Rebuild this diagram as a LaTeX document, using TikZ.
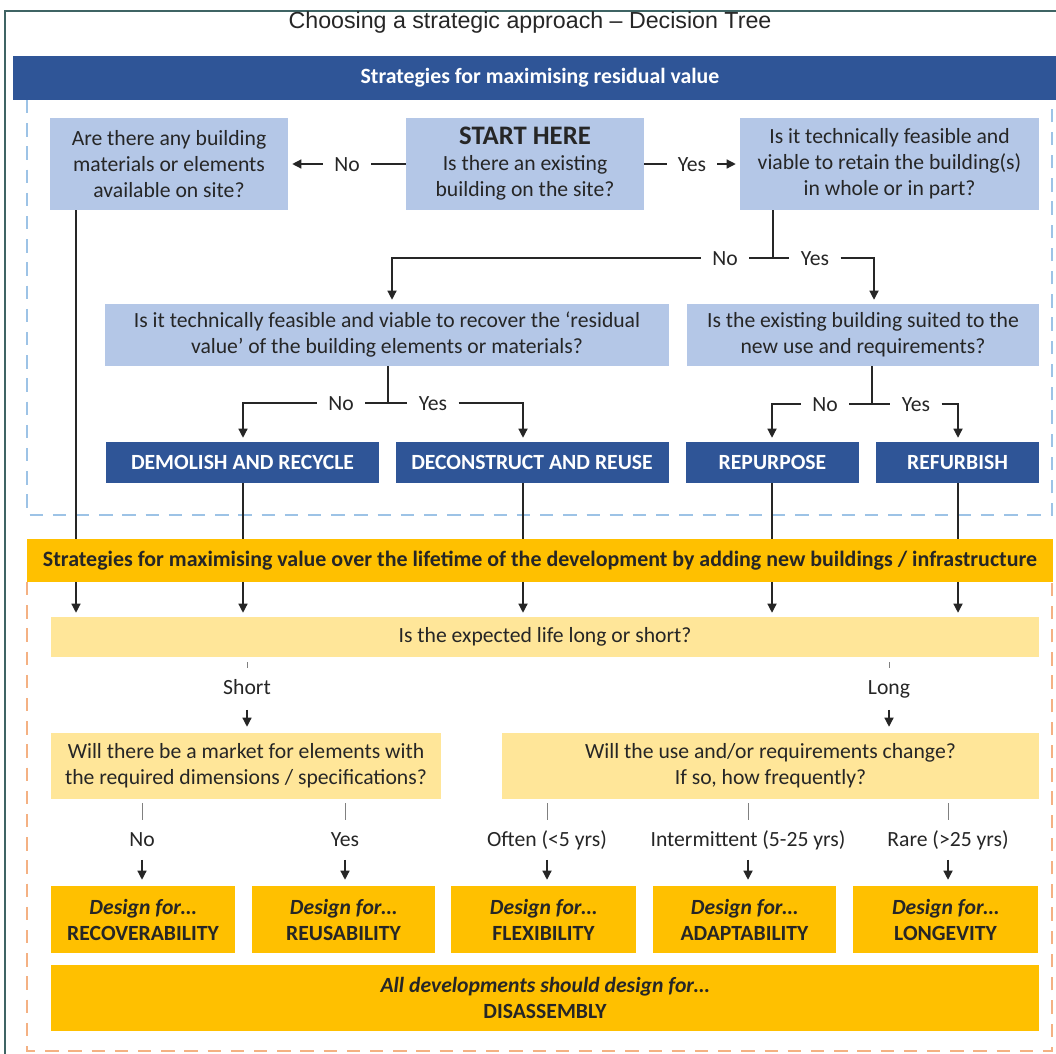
\documentclass[tikz,border=0pt]{standalone}
\usepackage{fontspec}
\setmainfont{Carlito}
\newfontfamily\titlefont{Liberation Sans}
\usetikzlibrary{arrows.meta}
\newdimen\px \px=0.025cm
\definecolor{darkblue}{HTML}{2F5597}
\definecolor{lightblue}{HTML}{B4C7E7}
\definecolor{gold}{HTML}{FFC000}
\definecolor{paleyellow}{HTML}{FFE699}
\definecolor{dashblue}{HTML}{9DC3E6}
\definecolor{dashorange}{HTML}{F4B183}
\definecolor{framegreen}{HTML}{3F6464}
\definecolor{ink}{HTML}{262626}

\begin{document}
\begin{tikzpicture}[x=0.025cm,y=-0.025cm,
  box/.style={inner sep=0pt,align=center,text=ink,font=\fontsize{15.4}{18.5}\selectfont},
  qblue/.style={box,fill=lightblue},
  qyellow/.style={box,fill=paleyellow},
  outcome/.style={box,fill=darkblue,text=white,font=\fontsize{15.4}{18.5}\selectfont\bfseries},
  design/.style={box,fill=gold,font=\fontsize{15.4}{18.5}\selectfont\bfseries},
  lbl/.style={fill=white,inner xsep=8pt,inner ysep=4pt,text height=10pt,text depth=0pt,text=ink,font=\fontsize{15.4}{18.5}\selectfont},
  conn/.style={draw=ink,line width=0.9pt},
  arr/.style={conn,shorten >=4\px,-{Triangle[length=6.5pt,width=6.5pt]}},
  tick/.style={draw=gray,line width=0.6pt},
  dashes/.style={line width=1.4pt,dash pattern=on 9.5pt off 7pt}
]
\fill[white] (0,0) rectangle (1056,1053);
\useasboundingbox (0,0) rectangle (1056,1053);
\clip (0,0) rectangle (1056,1053);
\draw[framegreen,line width=1.2pt] (5,1080) -- (5,11) -- (1080,11);
\node[font=\titlefont\fontsize{16.5}{19}\selectfont,text=ink] (title) at (530,22) {Choosing a strategic approach – Decision Tree};

% residual value
\node[fill=darkblue,text=white,font=\fontsize{15.5}{18}\selectfont\bfseries,minimum width=1054\px,minimum height=44\px,inner sep=0pt] (residual) at (540,78) {Strategies for maximising residual value};
\draw[dashblue,dashes] (27,100) -- (27,515) -- (1052,515) -- (1052,100);

\node[qblue,minimum width=238\px,minimum height=92\px] (avail) at (169,164) {Are there any building\\materials or elements\\available on site?};
\node[qblue,minimum width=238\px,minimum height=92\px] (start) at (525,164) {{\fontsize{19}{22}\selectfont\bfseries START HERE}\\Is there an existing\\building on the site?};
\node[qblue,minimum width=299\px,minimum height=92\px] (retain) at (889.5,164) {Is it technically feasible and\\viable to retain the building(s)\\in whole or in part?};
\node[qblue,minimum width=564\px,minimum height=62\px] (recover) at (387,335) {Is it technically feasible and viable to recover the ‘residual\\value’ of the building elements or materials?};
\node[qblue,minimum width=352\px,minimum height=62\px] (suited) at (863,335) {Is the existing building suited to the\\new use and requirements?};

\node[outcome,minimum width=273\px,minimum height=41\px] (demolish) at (242.5,462.5) {DEMOLISH AND RECYCLE};
\node[outcome,minimum width=273\px,minimum height=41\px] (deconstruct) at (532,462.5) {DECONSTRUCT AND REUSE};
\node[outcome,minimum width=173\px,minimum height=41\px] (repurpose) at (772.5,462.5) {REPURPOSE};
\node[outcome,minimum width=163\px,minimum height=41\px] (refurbish) at (957.5,462.5) {REFURBISH};

\coordinate (c0) at (76,0);
\coordinate (c1) at (243,0);
\coordinate (c2) at (523,0);
\coordinate (c3) at (772,0);
\coordinate (c4) at (958,0);

\draw[arr] (start) -- node[lbl] (no0) {No} (avail);
\draw[arr] (start) -- node[lbl] (yes0) {Yes} (retain);

\coordinate (split1) at (773,258);
\node[lbl] (no1) at (725,258) {No};
\node[lbl] (yes1) at (815,258) {Yes};
\draw[conn] (retain.south -| split1) -- (split1) -- (no1) (split1) -- (yes1);
\draw[arr] (no1) -| (recover.north -| 392,0);
\draw[arr] (yes1) -| (suited.north -| 874,0);

\coordinate (split2) at (388,403);
\node[lbl] (no2) at (341,403) {No};
\node[lbl] (yes2) at (433,403) {Yes};
\draw[conn] (recover.south -| split2) -- (split2) -- (no2) (split2) -- (yes2);
\draw[arr] (no2) -| (demolish.north -| c1);
\draw[arr] (yes2) -| (deconstruct.north -| c2);

\coordinate (split3) at (872,404);
\node[lbl] (no3) at (825,404) {No};
\node[lbl] (yes3) at (916,404) {Yes};
\draw[conn] (suited.south -| split3) -- (split3) -- (no3) (split3) -- (yes3);
\draw[arr] (no3) -| (repurpose.north -| c3);
\draw[arr] (yes3) -| (refurbish.north -| c4);

% lifetime value
\node[fill=gold,text=ink,font=\fontsize{15.6}{18}\selectfont\bfseries,minimum width=1026\px,minimum height=43\px,inner sep=0pt] (lifetime) at (540,560.5) {Strategies for maximising value over the lifetime of the development by adding new buildings / infrastructure};
\draw[dashorange,dashes] (27,582) -- (27,1051) -- (1052,1051) -- (1052,582);

\draw[conn] (avail.south -| c0) -- (lifetime.north -| c0);
\foreach \b/\c in {demolish/c1,deconstruct/c2,repurpose/c3,refurbish/c4}
  \draw[conn] (\b.south -| \c) -- (lifetime.north -| \c);

\node[qyellow,minimum width=988\px,minimum height=40\px] (life) at (545,637) {Is the expected life long or short?};
\foreach \c in {c0,c1,c2,c3,c4}
  \draw[arr] (lifetime.south -| \c) -- (life.north -| \c);

\node[qyellow,minimum width=390\px,minimum height=66\px] (market) at (246,766) {Will there be a market for elements with\\the required dimensions / specifications?};
\node[qyellow,minimum width=537\px,minimum height=66\px] (change) at (770.5,766) {Will the use and/or requirements change?\\If so, how frequently?};

\node[lbl] (short) at (247,687) {Short};
\node[lbl] (long) at (889,687) {Long};
\foreach \l/\q in {short/market,long/change}{
  \draw[tick,shorten <=5\px,shorten >=6\px] (life.south -| \l) -- (\l);
  \draw[arr,shorten <=10\px,shorten >=6\px] (\l) -- (\l |- \q.north);
}

\node[design,minimum width=184\px,minimum height=67\px] (recov) at (143,919.5) {\textit{Design for…}\\RECOVERABILITY};
\node[design,minimum width=183\px,minimum height=67\px] (reus) at (343.5,919.5) {\textit{Design for…}\\REUSABILITY};
\node[design,minimum width=185\px,minimum height=67\px] (flex) at (543.5,919.5) {\textit{Design for…}\\FLEXIBILITY};
\node[design,minimum width=183\px,minimum height=67\px] (adapt) at (744.5,919.5) {\textit{Design for…}\\ADAPTABILITY};
\node[design,minimum width=185\px,minimum height=67\px] (longev) at (945.5,919.5) {\textit{Design for…}\\LONGEVITY};
\node[design,minimum width=988\px,minimum height=66\px] (disassembly) at (545,998) {\textit{All developments should design for…}\\DISASSEMBLY};

\node[lbl] (no4) at (142,839) {No};
\node[lbl] (yes4) at (345,839) {Yes};
\node[lbl] (often) at (547,839) {Often (<5 yrs)};
\node[lbl] (intermittent) at (748,839) {Intermittent (5-25 yrs)};
\node[lbl] (rare) at (948,839) {Rare (>25 yrs)};
\foreach \l/\q/\d in {no4/market/recov,yes4/market/reus,often/change/flex,intermittent/change/adapt,rare/change/longev}{
  \draw[tick,shorten <=4\px,shorten >=6\px] (\q.south -| \l) -- (\l);
  \draw[arr,shorten <=8\px,shorten >=6\px] (\l) -- (\l |- \d.north);
}
\end{tikzpicture}
\end{document}
